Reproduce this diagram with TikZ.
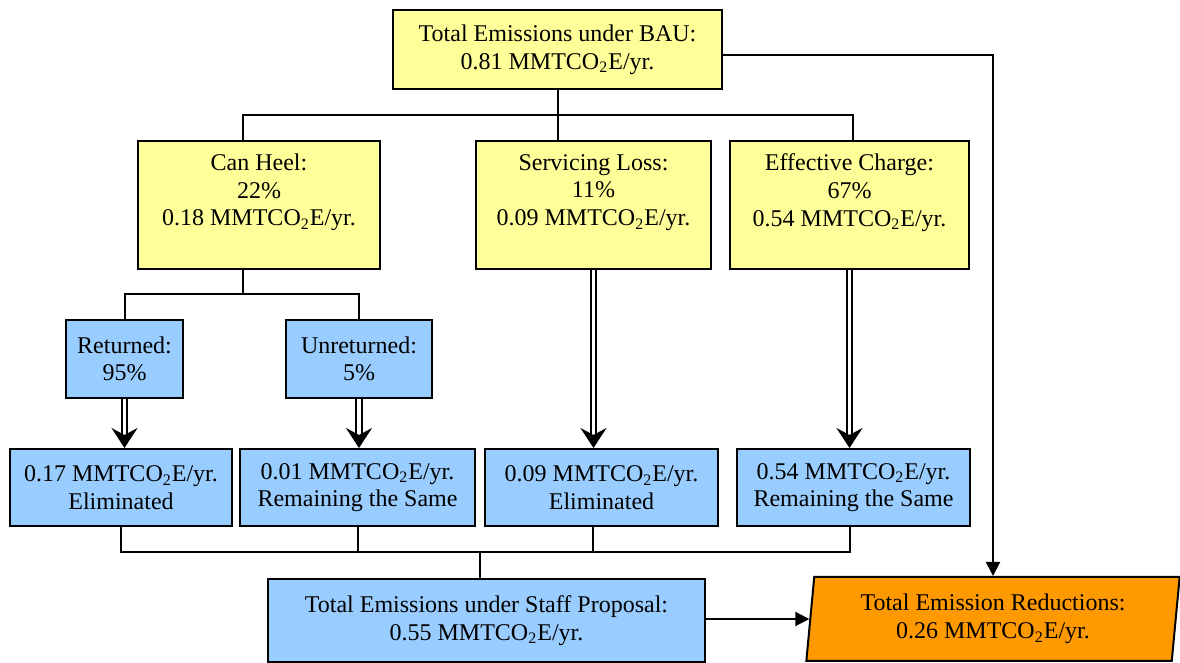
\documentclass[tikz,border=0pt]{standalone}
\usepackage{fontspec}
\setmainfont{Liberation Serif}
\usetikzlibrary{arrows.meta,shapes.geometric,calc}

\definecolor{bauyellow}{HTML}{FFFF99}
\definecolor{propblue}{HTML}{99CCFF}
\definecolor{redorange}{HTML}{FF9900}

\tikzset{
  box/.style={draw, line width=1pt, align=center, inner sep=2pt,
    font=\fontsize{12}{13.8}\selectfont},
  yellowbox/.style={box, fill=bauyellow},
  tallbox/.style={yellowbox, minimum height=64pt, text depth=15pt},
  bluebox/.style={box, fill=propblue},
  link/.style={line width=1pt},
  flowarrow/.style={line width=1pt, -{Triangle[length=7pt,width=7pt]}},
  dblarrow/.style={double, double distance=1.6pt, line width=1pt,
    -{Stealth[length=10pt,width=13pt,inset=3.5pt]}}
}

\newcommand{\mmt}{MMTCO\textsubscript{2}E/yr.}

\begin{document}
\begin{tikzpicture}[x=0.5pt, y=-0.5pt]
    % --- 画布 ---
    \useasboundingbox (0,0) rectangle (1180,663);

    % --- 第一层: BAU ---
    \node[yellowbox, minimum width=164.5pt, minimum height=39.5pt] (bau) at (557.5,49.5)
        {Total Emissions under BAU:\\0.81 \mmt};

    % --- 第二层: 三个分项 ---
    \node[tallbox, minimum width=121pt] (canheel) at (259,205)
        {Can Heel:\\22\%\\0.18 \mmt};
    \node[tallbox, minimum width=117.5pt] (servloss) at (593.5,205)
        {Servicing Loss:\\11\%\\0.09 \mmt};
    \node[tallbox, minimum width=119.5pt] (effcharge) at (849.5,205)
        {Effective Charge:\\67\%\\0.54 \mmt};

    % --- 第三层: Can Heel 拆分 ---
    \node[bluebox, minimum width=58.5pt, minimum height=39pt] (returned) at (124.5,359)
        {Returned:\\95\%};
    \node[bluebox, minimum width=73pt, minimum height=39pt] (unreturned) at (359,359)
        {Unreturned:\\5\%};

    % --- 第四层: 结果 ---
    \node[bluebox, minimum width=111pt, minimum height=38.5pt] (elimA) at (121,487.5)
        {0.17 \mmt\\Eliminated};
    \node[bluebox, minimum width=117.5pt, minimum height=38.5pt] (remainA) at (357.5,487.5)
        {0.01 \mmt\\Remaining the Same};
    \node[bluebox, minimum width=116.5pt, minimum height=38.5pt] (elimB) at (601.5,487.5)
        {0.09 \mmt\\Eliminated};
    \node[bluebox, minimum width=116.5pt, minimum height=38.5pt] (remainB) at (853.5,487.5)
        {0.54 \mmt\\Remaining the Same};

    % --- 底层: 总计 ---
    \node[bluebox, minimum width=218.5pt, minimum height=41.5pt] (staff) at (486.5,620.5)
        {Total Emissions under Staff Proposal:\\0.55 \mmt};
    \node[box, fill=redorange, trapezium, trapezium left angle=84, trapezium right angle=96,
        trapezium stretches=true, minimum width=187pt, minimum height=42pt] (reduct) at (993,619)
        {Total Emission Reductions:\\0.26 \mmt};

    % --- 连线: BAU 到第二层 ---
    \draw[link] (bau.south) -- (bau.south |- servloss.north);
    \draw[link] ([xshift=-8pt]canheel.north) -- ([xshift=-8pt]canheel.north |- 0,115)
        -| ([xshift=1.75pt]effcharge.north);

    % --- 连线: Can Heel 到第三层 ---
    \draw[link] ([xshift=-8pt]canheel.south) -- ++(0,24) coordinate (heelsplit);
    \draw[link] (returned.north) |- (heelsplit) -| (unreturned.north);

    % --- 双线箭头 ---
    \draw[dblarrow] (returned.south) -- (returned.south |- elimA.north);
    \draw[dblarrow] (unreturned.south) -- (unreturned.south |- remainA.north);
    \draw[dblarrow] (servloss.south) -- (servloss.south |- elimB.north);
    \draw[dblarrow] (effcharge.south) -- (effcharge.south |- remainB.north);

    % --- 连线: 第四层汇总 ---
    \draw[link] (elimA.south) -- (elimA.south |- 0,552) -| ([xshift=-1.75pt]remainB.south);
    \draw[link] (remainA.south) -- (remainA.south |- 0,552);
    \draw[link] ([xshift=-4.25pt]elimB.south) -- ([xshift=-4.25pt]elimB.south |- 0,552);
    \draw[link] ([xshift=-3.25pt]staff.north) -- ([xshift=-3.25pt]staff.north |- 0,552);

    % --- 箭头: 到减排量 ---
    \draw[flowarrow] ([yshift=-2.75pt]bau.east) -| (reduct.north);
    \draw[flowarrow] (staff.east |- reduct.west) -- (reduct.west);
\end{tikzpicture}
\end{document}
